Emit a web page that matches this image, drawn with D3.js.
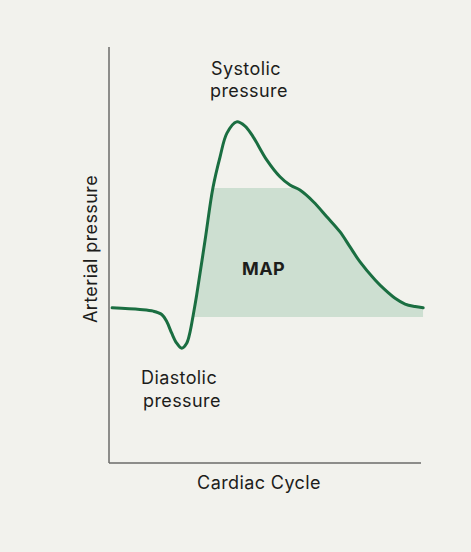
<!DOCTYPE html>
<html><head><meta charset="utf-8">
<script src="https://cdn.jsdelivr.net/npm/d3@7"></script>
<style>html,body{margin:0;padding:0;background:#f2f2ed;}svg{display:block;}</style>
</head><body><svg id="c" width="471" height="552"></svg>
<script>
// Cardiac cycle position (0-100) and arterial pressure (relative units 0-100)
const cycle =    [1, 9.9, 14.2, 16.9, 18.5, 20.1, 21.7, 23.3, 24.9, 26.0, 27.0, 28.1, 30.8, 33.3, 35.6, 37.8, 40.9, 43.6, 46.2, 50.6, 54.8, 58.0, 61.2, 65.5, 69.8, 74.0, 77.2, 80.4, 85.3, 88.5, 91.7, 94.9, 98.1, 100.7];
const pressure = [37.3, 36.9, 36.5, 35.7, 34.0, 31.2, 28.8, 27.6, 28.8, 31.6, 35.6, 40.4, 53.6, 66.1, 73.6, 79.3, 82.0, 81.0, 78.4, 72.8, 68.8, 66.8, 65.6, 62.8, 59.2, 55.6, 52.0, 48.4, 44.0, 41.6, 39.6, 38.2, 37.6, 37.3];
const mapLevels = [35.1, 66.1];   // band: diastolic baseline, MAP top
const mapXRange = [23.3, 100.7];
const labels = {x: "Cardiac Cycle", y: "Arterial pressure", systolic: ["Systolic", "pressure"], diastolic: ["Diastolic", "pressure"], map: "MAP"};

const svg = d3.select("#c");
const font = "Inter, 'Noto Sans', sans-serif";
const x = d3.scaleLinear().domain([0, 100]).range([109, 421]);
const y = d3.scaleLinear().domain([0, 100]).range([463, 47]);
const pts = cycle.map((c, i) => [c, pressure[i]]);

svg.append("rect").attr("width", 471).attr("height", 552).attr("fill", "#f2f2ed");

// clip for MAP band
svg.append("clipPath").attr("id", "band").append("rect")
  .attr("x", x(mapXRange[0])).attr("width", x(mapXRange[1]) - x(mapXRange[0]))
  .attr("y", y(mapLevels[1])).attr("height", y(mapLevels[0]) - y(mapLevels[1]));

const area = d3.area().x(d => x(d[0])).y0(y(mapLevels[0])).y1(d => y(d[1])).curve(d3.curveCatmullRom);
svg.append("path").datum(pts).attr("d", area).attr("fill", "#cddfd1").attr("clip-path", "url(#band)");

// axes
const g = svg.append("g").attr("stroke", "#6b6b68").attr("stroke-width", 1.5);
g.append("line").attr("x1", x(0)).attr("x2", x(0)).attr("y1", y(100)).attr("y2", y(0));
g.append("line").attr("x1", x(0)).attr("x2", x(100)).attr("y1", y(0)).attr("y2", y(0));

const line = d3.line().x(d => x(d[0])).y(d => y(d[1])).curve(d3.curveCatmullRom);
svg.append("path").datum(pts).attr("d", line).attr("fill", "none").attr("stroke", "#1a6e41").attr("stroke-width", 3).attr("stroke-linecap", "round");

const txt = (t, px, py, opts = {}) => svg.append("text").attr("x", px).attr("y", py).text(t)
  .attr("font-family", font).attr("font-size", 18).attr("letter-spacing", 0.4).attr("fill", "#1d1d1b")
  .attr("font-weight", opts.weight || 400).attr("text-anchor", opts.anchor || "start");

txt(labels.systolic[0], 211, 75);
txt(labels.systolic[1], 210, 97);
txt(labels.diastolic[0], 141, 384);
txt(labels.diastolic[1], 143, 406.5);
txt(labels.map, 242, 275, {weight: 700});
txt(labels.x, 259, 488.5, {anchor: "middle"});
svg.append("text").attr("transform", "translate(96.5,249) rotate(-90)").attr("text-anchor", "middle")
  .attr("font-family", font).attr("font-size", 18).attr("letter-spacing", 0.4).attr("fill", "#1d1d1b").text(labels.y);
</script></body></html>
